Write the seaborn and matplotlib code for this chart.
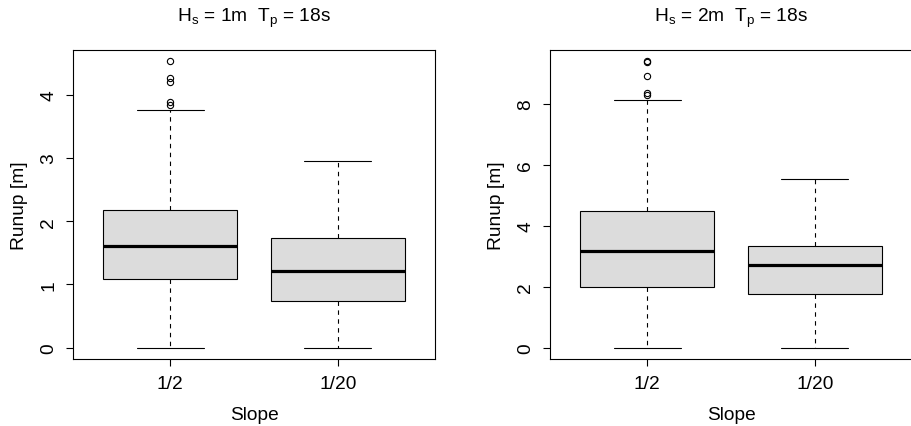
import pandas as pd
import matplotlib
matplotlib.use("Agg")
import matplotlib.pyplot as plt
import seaborn as sns

sns.set_theme(style="ticks")
plt.rcParams["font.family"] = ["Liberation Sans", "DejaVu Sans"]
plt.rcParams["mathtext.fontset"] = "custom"
plt.rcParams["mathtext.rm"] = "Liberation Sans"
plt.rcParams["text.color"] = "black"
plt.rcParams["axes.labelcolor"] = "black"
plt.rcParams["xtick.color"] = "black"
plt.rcParams["ytick.color"] = "black"

# categories
slopes = ["1/2", "1/20"]

# box stats: whisker low, Q1, median, Q3, whisker high
hs1_lo = [0.0, 0.0]
hs1_q1 = [1.08, 0.73]
hs1_med = [1.61, 1.22]
hs1_q3 = [2.18, 1.73]
hs1_hi = [3.76, 2.95]
hs1_out = [[3.84, 3.88, 4.20, 4.27, 4.53], []]

hs2_lo = [0.0, 0.0]
hs2_q1 = [1.99, 1.75]
hs2_med = [3.16, 2.72]
hs2_q3 = [4.48, 3.34]
hs2_hi = [8.12, 5.51]
hs2_out = [[8.28, 8.33, 8.91, 9.35, 9.38], []]

titles = [r"H$_\mathregular{s}$ = 1m  T$_\mathregular{p}$ = 18s",
          r"H$_\mathregular{s}$ = 2m  T$_\mathregular{p}$ = 18s"]
yticks = [[0, 1, 2, 3, 4], [0, 2, 4, 6, 8]]


def sample(lo, q1, med, q3, hi, out):
    # 41 values whose quartiles land exactly on q1 / median / q3
    k = len(out)
    return [lo] + [q1] * 10 + [med] * 10 + [q3] * (19 - k) + [hi] + list(out)


def build(lo, q1, med, q3, hi, out):
    rows = []
    for i, s in enumerate(slopes):
        for v in sample(lo[i], q1[i], med[i], q3[i], hi[i], out[i]):
            rows.append({"Slope": s, "Runup": v})
    return pd.DataFrame(rows)


df1 = build(hs1_lo, hs1_q1, hs1_med, hs1_q3, hs1_hi, hs1_out)
df2 = build(hs2_lo, hs2_q1, hs2_med, hs2_q3, hs2_hi, hs2_out)

fig = plt.figure(figsize=(9.11, 4.27), dpi=100)
ax1 = fig.add_axes([73 / 911, 1 - 360 / 427, 362 / 911, 309 / 427])
ax2 = fig.add_axes([550 / 911, 1 - 360 / 427, 362 / 911, 309 / 427])

fs = 13.8

for ax, df, title, yt in zip([ax1, ax2], [df1, df2], titles, yticks):
    sns.boxplot(data=df, x="Slope", y="Runup", order=slopes, ax=ax,
                color="#DCDCDC", saturation=1, linecolor="black",
                linewidth=0.8, width=0.8, whis=1.5, fliersize=4.5,
                medianprops={"linewidth": 2.3, "color": "black"},
                whiskerprops={"linestyle": (0, (4, 4))},
                flierprops={"marker": "o", "markerfacecolor": "none",
                            "markeredgecolor": "black",
                            "markeredgewidth": 0.8})
    lo, hi = df["Runup"].min(), df["Runup"].max()
    rng = hi - lo
    ax.set_ylim(lo - 0.04 * rng, hi + 0.04 * rng)
    ax.set_xlim(-0.58, 1.58)
    ax.set_yticks(yt)
    ax.set_yticklabels([str(t) for t in yt], rotation=90, va="center")
    ax.tick_params(axis="both", direction="out", length=5, width=0.8,
                   labelsize=fs, color="black")
    ax.tick_params(axis="y", pad=6.5)
    ax.tick_params(axis="x", pad=6.3)
    for sp in ax.spines.values():
        sp.set_visible(True)
        sp.set_color("black")
        sp.set_linewidth(0.8)
    ax.set_xlabel("Slope", fontsize=fs, labelpad=10)
    ax.set_ylabel("Runup [m]", fontsize=fs, labelpad=9)
    ax.set_title(title, fontsize=fs, pad=21)

fig.savefig("out.png", dpi=100)
